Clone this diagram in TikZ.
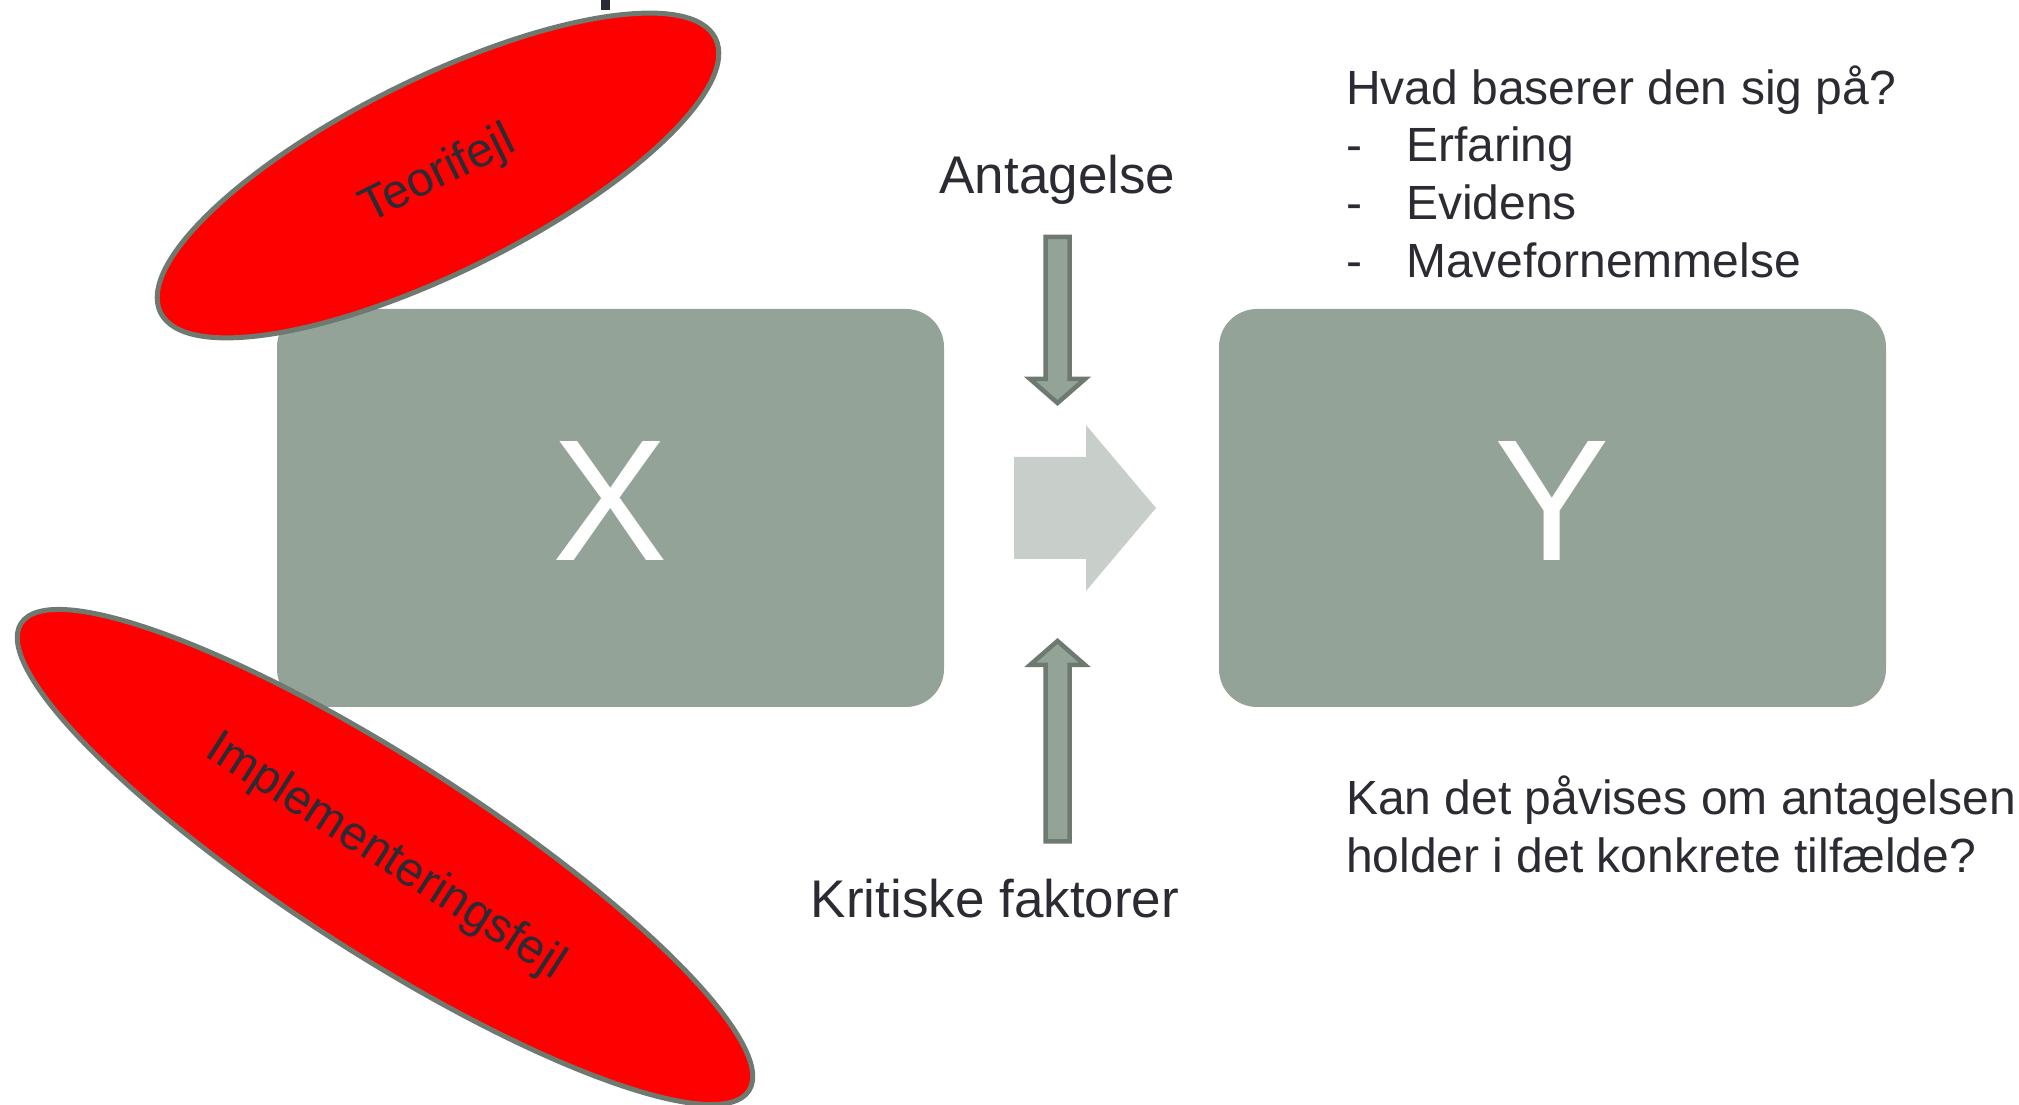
\documentclass[tikz,border=0pt]{standalone}
\usepackage{fontspec}
\setmainfont{Liberation Sans}
\usetikzlibrary{shapes.geometric}
\definecolor{boxgreen}{RGB}{148,163,152}
\definecolor{edgegreen}{RGB}{110,122,112}
\definecolor{paleshaft}{RGB}{200,207,202}
\definecolor{txtdark}{RGB}{43,43,51}
\definecolor{errred}{RGB}{254,0,0}
\begin{document}
\begin{tikzpicture}[x=1pt,y=1pt,
  bigbox/.style={draw=none, fill=boxgreen, rounded corners=38pt, inner sep=0pt,
    minimum width=667pt, minimum height=398pt},
  bigletter/.style={text=white, inner sep=0pt, anchor=base, font=\fontsize{173}{173}\selectfont},
  errell/.style={ellipse, draw=edgegreen, line width=5pt, fill=errred, inner sep=0pt,
    text=txtdark, font=\fontsize{48}{48}\selectfont},
  thinarrow/.style={draw=edgegreen, fill=boxgreen, line width=4.5pt},
  bigarrow/.style={draw=none, fill=paleshaft},
  lbl/.style={text=txtdark, inner sep=0pt, anchor=base, font=\fontsize{53}{60}\selectfont},
  rtxt/.style={text=txtdark, inner sep=0pt, anchor=base west, font=\fontsize{48}{56}\selectfont}
]
\useasboundingbox (0,0) rectangle (2019,1105);

% cut-off fragment at the top
\fill[txtdark] (601,1095) rectangle (610,1105);

% boxes
\node[bigbox] (boxX) at (610.5,597) {};
\node[bigbox] (boxY) at (1552.5,597) {};
\node[bigletter] (letX) at (610.5,544) {X};
\node[bigletter] (letY) at (1552.5,544) {Y};

% big pale arrow
\fill[bigarrow] (1014,648) -- (1086,648) -- (1086,680) -- (1156,597) -- (1086,514)
  -- (1086,546) -- (1014,546) -- cycle;

% thin arrows
\draw[thinarrow] (1045.5,868) -- (1069.5,868) -- (1069.5,726) -- (1085,726) -- (1057.5,702)
  -- (1030,726) -- (1045.5,726) -- cycle;
\draw[thinarrow] (1045.5,263.5) -- (1069.5,263.5) -- (1069.5,440) -- (1085,440) -- (1057.5,464)
  -- (1030,440) -- (1045.5,440) -- cycle;

% labels
\node[lbl] (antag) at (1057.5,911) {Antagelse};
\node[lbl] (krit) at (995,187) {Kritiske faktorer};

% right texts
\node[rtxt] (hvad) at (1346,1000) {Hvad baserer den sig på?};
\node[rtxt] (d1) at (1346,943) {-};
\node[rtxt] (i1) at (1406,943) {Erfaring};
\node[rtxt] (d2) at (1346,885) {-};
\node[rtxt] (i2) at (1406,885) {Evidens};
\node[rtxt] (d3) at (1346,827) {-};
\node[rtxt] (i3) at (1406,827) {Mavefornemmelse};
\node[rtxt] (kan1) at (1346,290) {Kan det påvises om antagelsen};
\node[rtxt] (kan2) at (1346,232) {holder i det konkrete tilfælde?};

% error ellipses
\node[errell, minimum width=619pt, minimum height=194pt, rotate=26.3] (teori) at (438,929.5) {Teorifejl};
\node[errell, minimum width=865pt, minimum height=194pt, rotate=-32.7] (impl) at (385,248) {Implementeringsfejl};
\end{tikzpicture}
\end{document}
